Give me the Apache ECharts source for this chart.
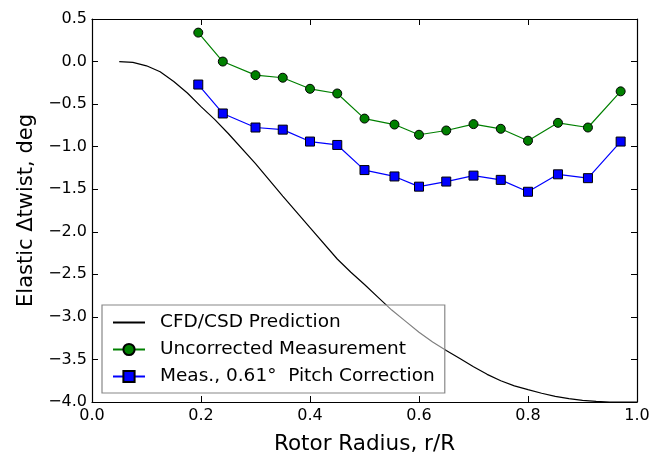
<!DOCTYPE html>
<html>
<head>
<meta charset="utf-8">
<script src="https://cdn.jsdelivr.net/npm/echarts@6/dist/echarts.min.js"></script>
<style>
  html, body { margin: 0; padding: 0; background: #fff; }
  #main { width: 667px; height: 460px; }
</style>
</head>
<body>
<div id="main"></div>
<script>
// measured stations (r/R)
var stations = [0.195, 0.24, 0.30, 0.35, 0.40, 0.45, 0.50, 0.555, 0.60, 0.65, 0.70, 0.75, 0.80, 0.855, 0.91, 0.97];
var uncorrected = [0.34, 0.0, -0.16, -0.19, -0.32, -0.375, -0.67, -0.74, -0.86, -0.81, -0.735, -0.79, -0.93, -0.72, -0.775, -0.35];
var corrected = [-0.27, -0.61, -0.775, -0.80, -0.94, -0.98, -1.275, -1.35, -1.47, -1.41, -1.34, -1.39, -1.53, -1.325, -1.37, -0.94];

// CFD/CSD prediction curve
var cfdX = [0.05, 0.075, 0.1, 0.125, 0.15, 0.175, 0.2, 0.225, 0.25, 0.3, 0.35, 0.4, 0.45, 0.475, 0.5, 0.525, 0.55, 0.575, 0.6,
  0.625, 0.65, 0.675, 0.7, 0.725, 0.75, 0.775, 0.8, 0.825, 0.85, 0.875, 0.9, 0.925, 0.95, 1.0];
var cfdY = [0.0, -0.01, -0.05, -0.12, -0.235, -0.37, -0.53, -0.68, -0.845, -1.2, -1.58, -1.95, -2.32, -2.475, -2.62, -2.77, -2.92, -3.05, -3.18,
  -3.295, -3.395, -3.49, -3.585, -3.675, -3.75, -3.81, -3.855, -3.897, -3.933, -3.96, -3.98, -3.993, -4.0, -4.0];

var seriesNames = ['CFD/CSD Prediction', 'Uncorrected Measurement', 'Meas., 0.61\u00b0  Pitch Correction'];

function zip(xs, ys) {
  return xs.map(function (x, i) { return [x, ys[i]]; });
}
function fmt(v) {
  return v.toFixed(1).replace('-', '\u2212');
}

var chartDom = document.getElementById('main');
var myChart = echarts.init(chartDom);
var font = 'DejaVu Sans';

var tick = { show: true, inside: true, length: 6, lineStyle: { color: '#000', width: 1 } };
var line = { show: true, onZero: false, lineStyle: { color: '#000', width: 1.2 } };

var option = {
  animation: false,
  textStyle: { fontFamily: font },
  grid: { left: 92, right: 30, top: 19, bottom: 57 },
  legend: {
    orient: 'vertical',
    left: 102,
    top: 305,
    padding: [8, 10, 7, 10],
    itemGap: 8,
    itemWidth: 32,
    itemHeight: 14,
    borderColor: '#888',
    borderWidth: 1.2,
    borderRadius: 0,
    backgroundColor: 'rgba(255,255,255,0.5)',
    textStyle: { fontFamily: font, fontSize: 18.5, lineHeight: 14, color: '#000', padding: [0, 0, 0, 10] },
    data: [
      { name: seriesNames[0], itemStyle: { opacity: 0 } },
      seriesNames[1],
      seriesNames[2]
    ]
  },
  xAxis: [
    {
      type: 'value', min: 0, max: 1, interval: 0.2, position: 'bottom',
      axisLine: line, axisTick: tick, splitLine: { show: false },
      axisLabel: { formatter: fmt, fontSize: 16, color: '#000', margin: 6, fontFamily: font },
      name: 'Rotor Radius, r/R', nameLocation: 'middle', nameGap: 31,
      nameTextStyle: { fontSize: 21.5, color: '#000', fontFamily: font }
    },
    {
      type: 'value', min: 0, max: 1, interval: 0.2, position: 'top',
      axisLine: line, axisTick: tick, splitLine: { show: false },
      axisLabel: { show: false }
    }
  ],
  yAxis: [
    {
      type: 'value', min: -4, max: 0.5, interval: 0.5, position: 'left',
      axisLine: line, axisTick: tick, splitLine: { show: false },
      axisLabel: { formatter: fmt, fontSize: 16, color: '#000', margin: 5, fontFamily: font },
      name: 'Elastic \u0394twist, deg', nameLocation: 'middle', nameGap: 54,
      nameTextStyle: { fontSize: 21, color: '#000', fontFamily: font }
    },
    {
      type: 'value', min: -4, max: 0.5, interval: 0.5, position: 'right',
      axisLine: line, axisTick: tick, splitLine: { show: false },
      axisLabel: { show: false }
    }
  ],
  series: [
    {
      name: seriesNames[0],
      type: 'line',
      data: zip(cfdX, cfdY),
      showSymbol: false,
      symbol: 'none',
      lineStyle: { color: '#000', width: 1.2 },
      itemStyle: { color: '#000' },
      z: 1
    },
    {
      name: seriesNames[1],
      type: 'line',
      data: zip(stations, uncorrected),
      symbol: 'circle',
      symbolSize: 9,
      lineStyle: { color: '#008000', width: 1.2 },
      itemStyle: { color: '#008000', borderColor: '#000', borderWidth: 1 },
      z: 3
    },
    {
      name: seriesNames[2],
      type: 'line',
      data: zip(stations, corrected),
      symbol: 'rect',
      symbolSize: 9,
      lineStyle: { color: '#0000ff', width: 1.2 },
      itemStyle: { color: '#0000ff', borderColor: '#000', borderWidth: 1 },
      z: 3
    }
  ]
};

option && myChart.setOption(option);
</script>
</body>
</html>
